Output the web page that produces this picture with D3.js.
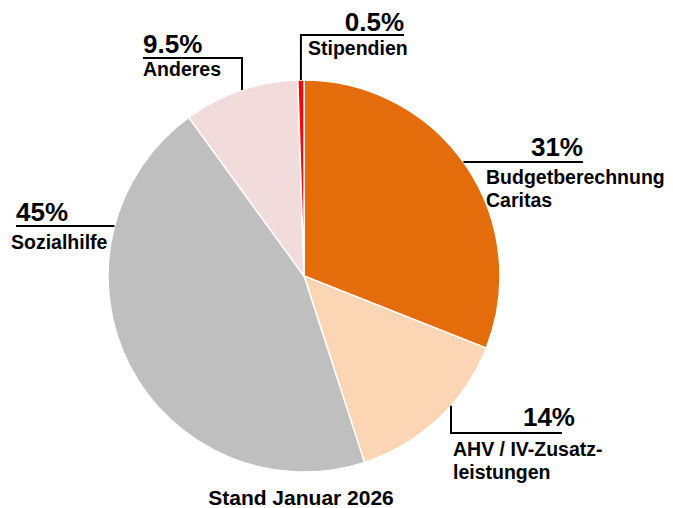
<!DOCTYPE html>
<html>
<head>
<meta charset="utf-8">
<script src="https://cdn.jsdelivr.net/npm/d3@7"></script>
<style>
  body { margin: 0; background: #fff; }
  text { font-family: "Liberation Sans", Arial, sans-serif; font-weight: bold; fill: #000; }
</style>
</head>
<body>
<div id="chart"></div>
<script>
// slices, clockwise from 12 o'clock
const categories = ['Budgetberechnung Caritas', 'AHV / IV-Zusatzleistungen', 'Sozialhilfe', 'Anderes', 'Stipendien'];
const values = [31, 14, 45, 9.5, 0.5];
const valueLabels = ['31%', '14%', '45%', '9.5%', '0.5%'];
const labelLines = [['Budgetberechnung', 'Caritas'], ['AHV / IV-Zusatz-', 'leistungen'], ['Sozialhilfe'], ['Anderes'], ['Stipendien']];
const colors = ['#E46C0A', '#FCD5B5', '#BFBFBF', '#F2DCDB', '#FF0000'];
const footnote = 'Stand Januar 2026';

const width = 673, height = 508;
const cx = 304, cy = 276, radius = 196;

const svg = d3.select('#chart').append('svg')
    .attr('width', width)
    .attr('height', height);

const pie = d3.pie().sort(null).value(d => d);
const arcs = pie(values);
const arc = d3.arc().innerRadius(0).outerRadius(radius);

const g = svg.append('g').attr('transform', `translate(${cx},${cy})`);
g.selectAll('path')
    .data(arcs)
    .join('path')
    .attr('d', arc)
    .attr('fill', (d, i) => colors[i])
    .attr('stroke', '#fff')
    .attr('stroke-width', 1.5);

// y on the circle for a given x (upper or lower half)
function yAt(x, lower) {
    const dx = x - cx;
    const dy = Math.sqrt(radius * radius - dx * dx);
    return lower ? cy + dy : cy - dy;
}
// x on the circle for a given y (right or left half)
function xAt(y, right) {
    const dy = y - cy;
    const dx = Math.sqrt(radius * radius - dy * dy);
    return right ? cx + dx : cx - dx;
}
// middle of the red sliver
function midPoint(i) {
    const a = (arcs[i].startAngle + arcs[i].endAngle) / 2;
    return [cx + radius * Math.sin(a), cy - radius * Math.cos(a)];
}

// leader lines and label positions
const layout = [
    { line: [[xAt(162, true), 162], [583, 162]], pct: [583, 156, 'end'], lab: [486, 184] },
    { line: [[451, yAt(451, true)], [451, 433], [562, 433]], pct: [575, 426, 'end'], lab: [453, 456] },
    { line: [[xAt(226, false), 226], [16, 226]], pct: [16, 221, 'start'], lab: [11, 249] },
    { line: [[242, yAt(242, false)], [242, 58], [143, 58]], pct: [143, 53, 'start'], lab: [143, 76] },
    { line: [midPoint(4), [midPoint(4)[0], 35], [404, 35]], pct: [404, 31, 'end'], lab: [308, 55] }
];

const lineGen = d3.line();
layout.forEach((L, i) => {
    svg.append('path')
        .attr('d', lineGen(L.line))
        .attr('fill', 'none')
        .attr('stroke', '#000')
        .attr('stroke-width', 2);

    svg.append('text')
        .attr('x', L.pct[0])
        .attr('y', L.pct[1])
        .attr('text-anchor', L.pct[2])
        .attr('font-size', 26)
        .text(valueLabels[i]);

    svg.append('text')
        .attr('x', L.lab[0])
        .attr('y', L.lab[1])
        .attr('font-size', 19.5)
        .selectAll('tspan')
        .data(labelLines[i])
        .join('tspan')
        .attr('x', L.lab[0])
        .attr('dy', (d, j) => j === 0 ? 0 : 23)
        .text(d => d);
});

svg.append('text')
    .attr('x', 301)
    .attr('y', 505)
    .attr('text-anchor', 'middle')
    .attr('font-size', 21)
    .text(footnote);
</script>
</body>
</html>
